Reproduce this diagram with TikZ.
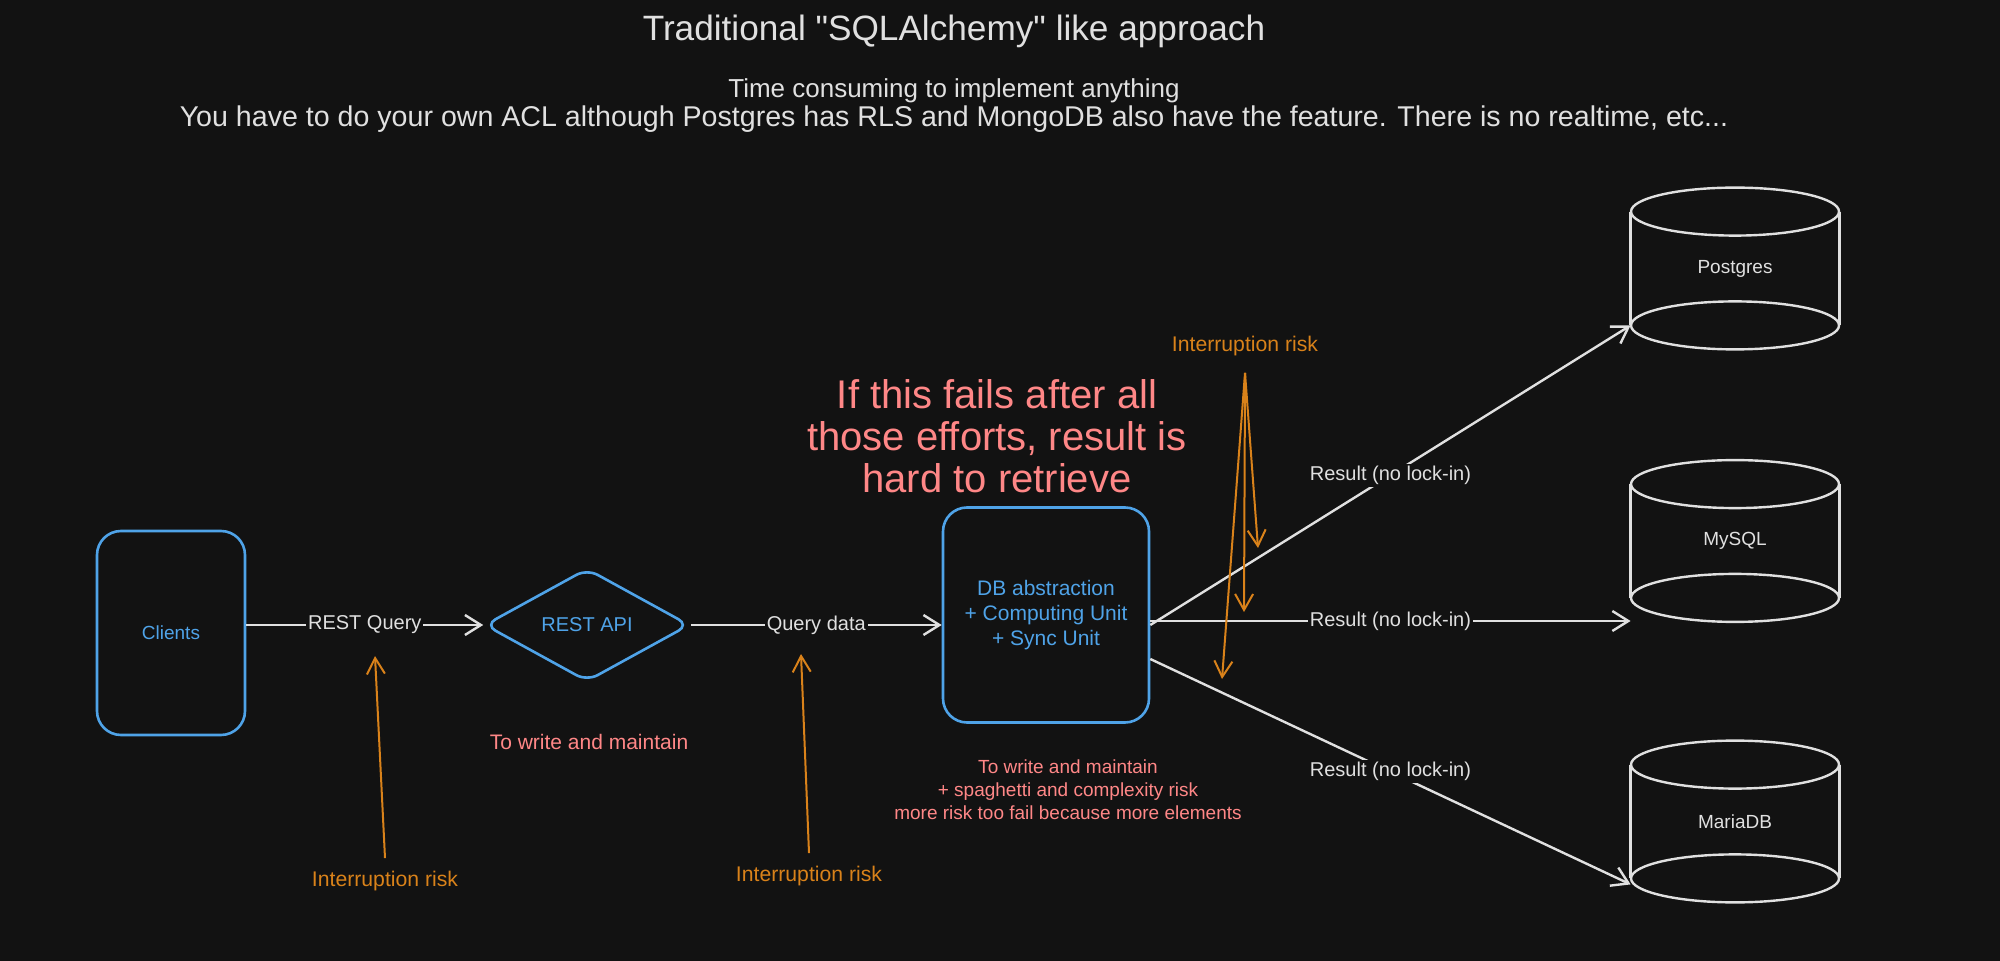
\documentclass[tikz,border=0pt]{standalone}
\usepackage{fontspec}
\setmainfont{Liberation Sans}[Ligatures=TeXOff]
\usetikzlibrary{arrows.meta,calc,shapes.geometric}
\definecolor{bg}{HTML}{121212}
\definecolor{lc}{HTML}{E0E0E0}
\definecolor{bl}{HTML}{4FA3E8}
\definecolor{orng}{HTML}{D9821A}
\definecolor{salm}{HTML}{FF8787}
\newcommand{\fs}[1]{\fontsize{#1}{1.2\dimexpr#1\relax}\selectfont}
\begin{document}
\begin{tikzpicture}[x=0.5pt,y=-0.5pt,
  wline/.style={draw=lc,line width=1.2pt},
  barb/.style={-{Straight Barb[length=8pt,width=10pt,line width=1.2pt]}},
  obarb/.style={draw=orng,line width=1pt,-{Straight Barb[length=8pt,width=9pt,line width=1pt]}},
  bluebox/.style={draw=bl,line width=1.3pt,rounded corners=12pt,text=bl,align=center,inner sep=0pt},
  lbl/.style={text=lc,font=\fs{10pt},fill=bg,inner sep=1pt},
  rlbl/.style={lbl,font=\fs{10pt}},
  olbl/.style={text=orng,font=\fs{10.6pt}},
  slbl/.style={text=salm,align=center},
  cyl/.style={minimum width=104pt,minimum height=56.5pt,inner sep=0pt,text=lc,font=\fs{9.5pt}}
]
\fill[bg] (0,0) rectangle (2000,961);
\useasboundingbox (0,0) rectangle (2000,961);

% titles
\node[text=lc,font=\fs{17.6pt}] (title) at (954,31) {Traditional "SQLAlchemy" like approach};
\node[text=lc,font=\fs{13pt}] (sub1) at (954,91) {Time consuming to implement anything};
\node[text=lc,font=\fs{14.3pt}] (sub2) at (954,119) {You have to do your own ACL although Postgres has RLS and MongoDB also have the feature. There is no realtime, etc...};

% main nodes
\node[bluebox,minimum width=74pt,minimum height=102pt,font=\fs{9.5pt}] (cl) at (171,633) {Clients};
\node[draw=bl,line width=1.3pt,diamond,minimum width=102.5pt,minimum height=56.5pt,inner sep=0pt,rounded corners=6pt,text=bl,font=\fs{10pt}] (api) at (587,625) {REST API};
\node[bluebox,minimum width=103pt,minimum height=107.5pt,font=\fontsize{10.5pt}{12.5pt}\selectfont] (db) at (1046,615) {DB abstraction\\+ Computing Unit\\+ Sync Unit};

% cylinders
\node[cyl] (pg) at (1735,268.5) {Postgres};
\node[cyl] (my) at (1735,541) {MySQL};
\node[cyl] (ma) at (1735,821.5) {MariaDB};
\foreach \c in {pg,my,ma}{
  \draw[wline] (\c.north) ellipse [x radius=52pt,y radius=12pt];
  \draw[wline] (\c.south) ellipse [x radius=52pt,y radius=12pt];
  \draw[wline] (\c.north west) -- (\c.south west);
  \draw[wline] (\c.north east) -- (\c.south east);
}

% connectors
\draw[wline,barb] (cl.east |- api.west) -- node[lbl,midway] {REST Query} (api.west);
\draw[wline,barb] (api.east) -- node[lbl,midway] {Query data} (db.west |- api.east);
\draw[wline,barb] ([yshift=-5pt]db.east) -- node[rlbl,midway] {Result (no lock-in)} (pg.south west);
\draw[wline,barb] ([yshift=-3pt]db.east) coordinate (s2) -- node[rlbl,midway] {Result (no lock-in)} (s2 -| my.south west);
\draw[wline,barb] ([yshift=-22pt]db.east) -- node[rlbl,midway] {Result (no lock-in)} ([yshift=-3pt]ma.south west);

% orange interruption risks
\node[olbl] (ir1) at (385,881) {Interruption risk};
\node[olbl] (ir2) at (809,876) {Interruption risk};
\node[olbl] (ir3) at (1245,346) {Interruption risk};
\coordinate (t1) at (375,656);
\coordinate (t2) at (801,654);
\coordinate (t3a) at (1258,548);
\coordinate (t3b) at (1244,612);
\coordinate (t3c) at (1222,679);
\draw[obarb] ([yshift=3pt]ir1.north) -- (t1);
\draw[obarb] ([yshift=3pt]ir2.north) -- (t2);
\draw[obarb] ([yshift=-5pt]ir3.south) -- (t3a);
\draw[obarb] ([yshift=-5pt]ir3.south) -- (t3b);
\draw[obarb] ([yshift=-5pt]ir3.south) -- (t3c);

% salmon notes
\node[slbl,font=\fontsize{20pt}{21pt}\selectfont] (fail) at (997,436) {If this fails after all\\those efforts, result is\\hard to retrieve};
\node[slbl,font=\fs{10.5pt}] (n1) at (589,742) {To write and maintain};
\node[slbl,font=\fontsize{9.5pt}{11.5pt}\selectfont] (n2) at (1068,790) {To write and maintain\\+ spaghetti and complexity risk\\more risk too fail because more elements};
\end{tikzpicture}
\end{document}
